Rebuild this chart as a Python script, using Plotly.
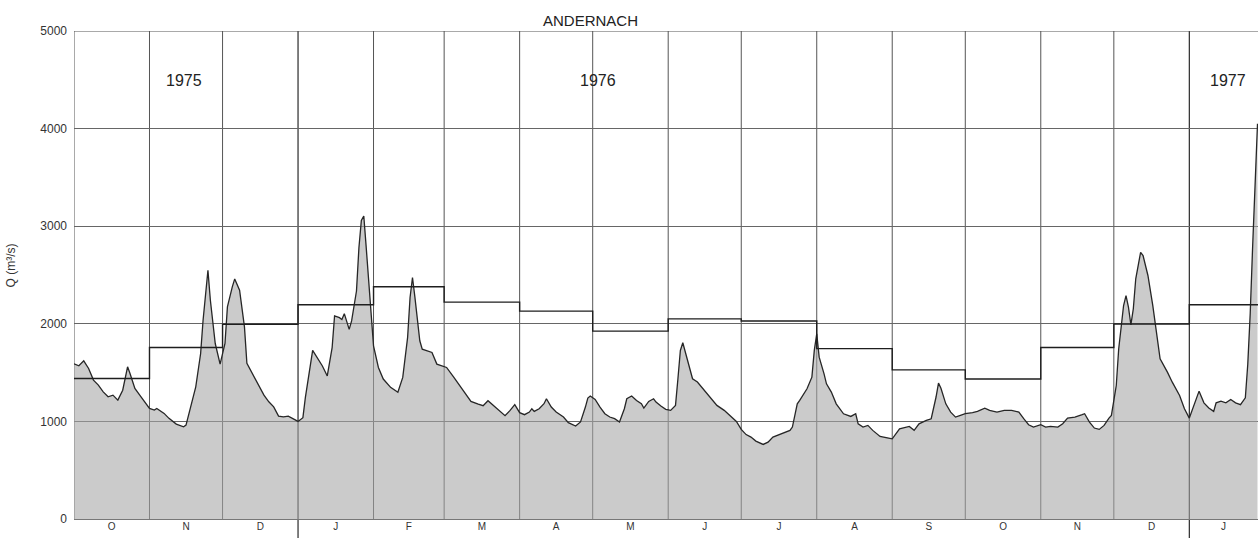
import pandas as pd
import plotly.graph_objects as go

# Daily discharge at Andernach (m3/s), day offset counted from 1 Oct 1975
day = [0, 2, 4, 6, 8, 10, 12, 14, 16, 18, 20, 22, 23, 25, 27, 29, 31, 33, 34, 37,
       39, 42, 45, 46, 48, 50, 52, 53, 55, 56, 58, 60, 62, 63, 65, 66, 68, 70, 71, 74,
       76, 78, 80, 82, 84, 86, 88, 90, 92, 94, 95, 98, 100, 102, 104, 106, 107, 109, 110, 111,
       113, 114, 116, 117, 118, 119, 120, 122, 123, 125, 127, 130, 133, 135, 137, 138, 139, 140, 142, 143,
       145, 147, 149, 151, 153, 156, 159, 162, 163, 166, 168, 170, 173, 177, 179, 181, 183, 185, 187, 188,
       189, 191, 193, 194, 196, 198, 201, 203, 206, 208, 210, 211, 212, 214, 216, 218, 220, 222, 224, 226,
       227, 229, 231, 233, 234, 236, 238, 239, 241, 243, 245, 247, 248, 249, 250, 251, 253, 254, 256, 259,
       262, 264, 267, 270, 272, 274, 276, 278, 280, 283, 285, 287, 289, 291, 294, 295, 297, 298, 300, 301,
       303, 304, 305, 306, 308, 309, 311, 313, 316, 319, 321, 322, 324, 326, 328, 331, 334, 336, 339, 341,
       343, 345, 347, 350, 352, 354, 355, 356, 358, 360, 362, 364, 366, 369, 371, 374, 376, 379, 382, 385,
       388, 390, 392, 394, 397, 399, 401, 404, 406, 408, 411, 414, 415, 417, 419, 421, 423, 425, 426, 428,
       429, 430, 431, 432, 433, 434, 435, 436, 438, 439, 441, 443, 445, 446, 449, 451, 454, 456, 458, 460,
       462, 464, 466, 468, 469, 471, 473, 475, 477, 479, 481, 482, 483, 484, 485, 486]
discharge = [1590, 1570, 1620, 1542, 1423, 1372, 1303, 1252, 1269, 1218, 1320, 1559, 1491, 1338, 1269, 1201, 1133, 1116, 1133, 1082,
             1031, 972, 945, 962, 1149, 1354, 1696, 2037, 2549, 2241, 1798, 1587, 1798, 2173, 2378, 2460, 2344, 1968, 1594, 1456,
             1354, 1269, 1201, 1149, 1054, 1047, 1054, 1031, 1000, 1038, 1243, 1727, 1653, 1568, 1466, 1755, 2080, 2063, 2045, 2104,
             1943, 2029, 2336, 2779, 3060, 3104, 2780, 2166, 1774, 1553, 1434, 1349, 1298, 1451, 1861, 2270, 2474, 2270, 1826, 1740,
             1724, 1707, 1587, 1570, 1553, 1451, 1349, 1246, 1205, 1177, 1161, 1212, 1144, 1059, 1110, 1171, 1090, 1069, 1096, 1130,
             1102, 1130, 1181, 1232, 1147, 1096, 1045, 987, 953, 994, 1147, 1239, 1260, 1225, 1147, 1079, 1045, 1028, 994, 1130,
             1232, 1260, 1215, 1181, 1137, 1205, 1232, 1198, 1157, 1123, 1113, 1164, 1437, 1727, 1806, 1710, 1539, 1437, 1403, 1317,
             1232, 1164, 1113, 1045, 1000, 918, 865, 839, 798, 764, 788, 839, 857, 873, 908, 942, 1180, 1215, 1300, 1334,
             1453, 1727, 1897, 1658, 1487, 1385, 1300, 1180, 1078, 1051, 1078, 975, 942, 959, 908, 846, 832, 822, 924, 934,
             948, 908, 975, 1010, 1027, 1250, 1392, 1340, 1180, 1095, 1044, 1061, 1079, 1089, 1102, 1136, 1113, 1095, 1113, 1113,
             1095, 1028, 966, 942, 966, 942, 949, 942, 976, 1034, 1044, 1069, 1079, 993, 932, 918, 959, 1034, 1061, 1368,
             1744, 1965, 2187, 2289, 2170, 1990, 2154, 2461, 2733, 2699, 2495, 2187, 1812, 1641, 1505, 1402, 1266, 1130, 1034, 1172,
             1310, 1190, 1138, 1103, 1190, 1207, 1190, 1224, 1190, 1172, 1241, 1586, 2103, 2793, 3483, 4050]

# Long-term monthly mean discharge (m3/s)
month_starts = ["1975-10-01", "1975-11-01", "1975-12-01", "1976-01-01", "1976-02-01", "1976-03-01",
                "1976-04-01", "1976-05-01", "1976-06-01", "1976-07-01", "1976-08-01", "1976-09-01",
                "1976-10-01", "1976-11-01", "1976-12-01", "1977-01-01"]
monthly_mean = [1440, 1757, 1995, 2195, 2380, 2222, 2130, 1925, 2050, 2028, 1746, 1528,
                1435, 1757, 1998, 2195]
month_letters = ["O", "N", "D", "J", "F", "M", "A", "M", "J", "J", "A", "S", "O", "N", "D", "J"]
year_labels = ["1975", "1976", "1977"]
y_ticks = [0, 1000, 2000, 3000, 4000, 5000]

origin = pd.Timestamp("1975-10-01")
dates = origin + pd.to_timedelta(day, unit="D")
x_end = origin + pd.Timedelta(days=486.2)

starts = pd.to_datetime(month_starts)
step_x = list(starts) + [pd.Timestamp("1977-02-01")]
step_y = monthly_mean + [monthly_mean[-1]]
mid_month = [s + (e - s) / 2 for s, e in zip(step_x[:-1], step_x[1:])]
mid_month[-1] = pd.Timestamp("1977-01-15")

fig = go.Figure()

fig.add_trace(go.Scatter(
    x=dates, y=discharge, mode="lines",
    line=dict(color="#262626", width=1.3),
    fill="tozeroy", fillcolor="rgba(165,165,165,0.58)",
    hoverinfo="skip", showlegend=False,
))

fig.add_trace(go.Scatter(
    x=step_x, y=step_y, mode="lines", line_shape="hv",
    line=dict(color="#1e1e1e", width=1.4),
    hoverinfo="skip", showlegend=False,
))

shapes = []
for s in starts:
    is_year = s.month == 1
    shapes.append(dict(
        type="line", xref="x", yref="paper" if is_year else "y",
        x0=s, x1=s,
        y0=-0.04 if is_year else 0, y1=1 if is_year else 5000,
        line=dict(color="#2a2a2a" if is_year else "#555555", width=1.2 if is_year else 1),
        layer="below",
    ))
shapes.append(dict(type="line", xref="paper", yref="y", x0=0, x1=1, y0=5000, y1=5000,
                   line=dict(color="#555555", width=1), layer="below"))

font_family = "Liberation Sans, DejaVu Sans, sans-serif"

annotations = [
    dict(text="ANDERNACH", x=0.436, y=1, xref="paper", yref="paper",
         xanchor="center", yanchor="bottom", yshift=0, showarrow=False,
         font=dict(size=15, color="#222222", family=font_family)),
    dict(text="Q (m³/s)", x=-0.053, y=0.52, xref="paper", yref="paper",
         textangle=-90, xanchor="center", yanchor="middle", showarrow=False,
         font=dict(size=12, color="#333333", family=font_family)),
]
year_pos = [pd.Timestamp("1975-11-15"), pd.Timestamp("1976-05-03"), pd.Timestamp("1977-01-17")]
for label, xpos in zip(year_labels, year_pos):
    annotations.append(dict(text=label, x=xpos, y=4490, xref="x", yref="y",
                            showarrow=False, xanchor="center", yanchor="middle",
                            font=dict(size=16, color="#222222", family=font_family)))

fig.update_layout(
    width=1258, height=538,
    margin=dict(l=74, r=0, t=31, b=19),
    paper_bgcolor="white", plot_bgcolor="white",
    shapes=shapes, annotations=annotations,
    xaxis=dict(
        type="date", range=[origin, x_end],
        tickmode="array", tickvals=mid_month, ticktext=month_letters,
        showgrid=False, zeroline=False, showline=False, ticks="",
        tickfont=dict(size=10, color="#333333", family=font_family),
    ),
    yaxis=dict(
        range=[0, 5000], tickmode="array", tickvals=y_ticks,
        ticktext=[str(v) for v in y_ticks],
        showgrid=True, gridcolor="#666666", gridwidth=1,
        zeroline=True, zerolinecolor="#777777", zerolinewidth=1,
        showline=False, ticks="", ticklabelstandoff=6,
        tickfont=dict(size=12, color="#333333", family=font_family),
    ),
)

fig.write_html("out.html")
